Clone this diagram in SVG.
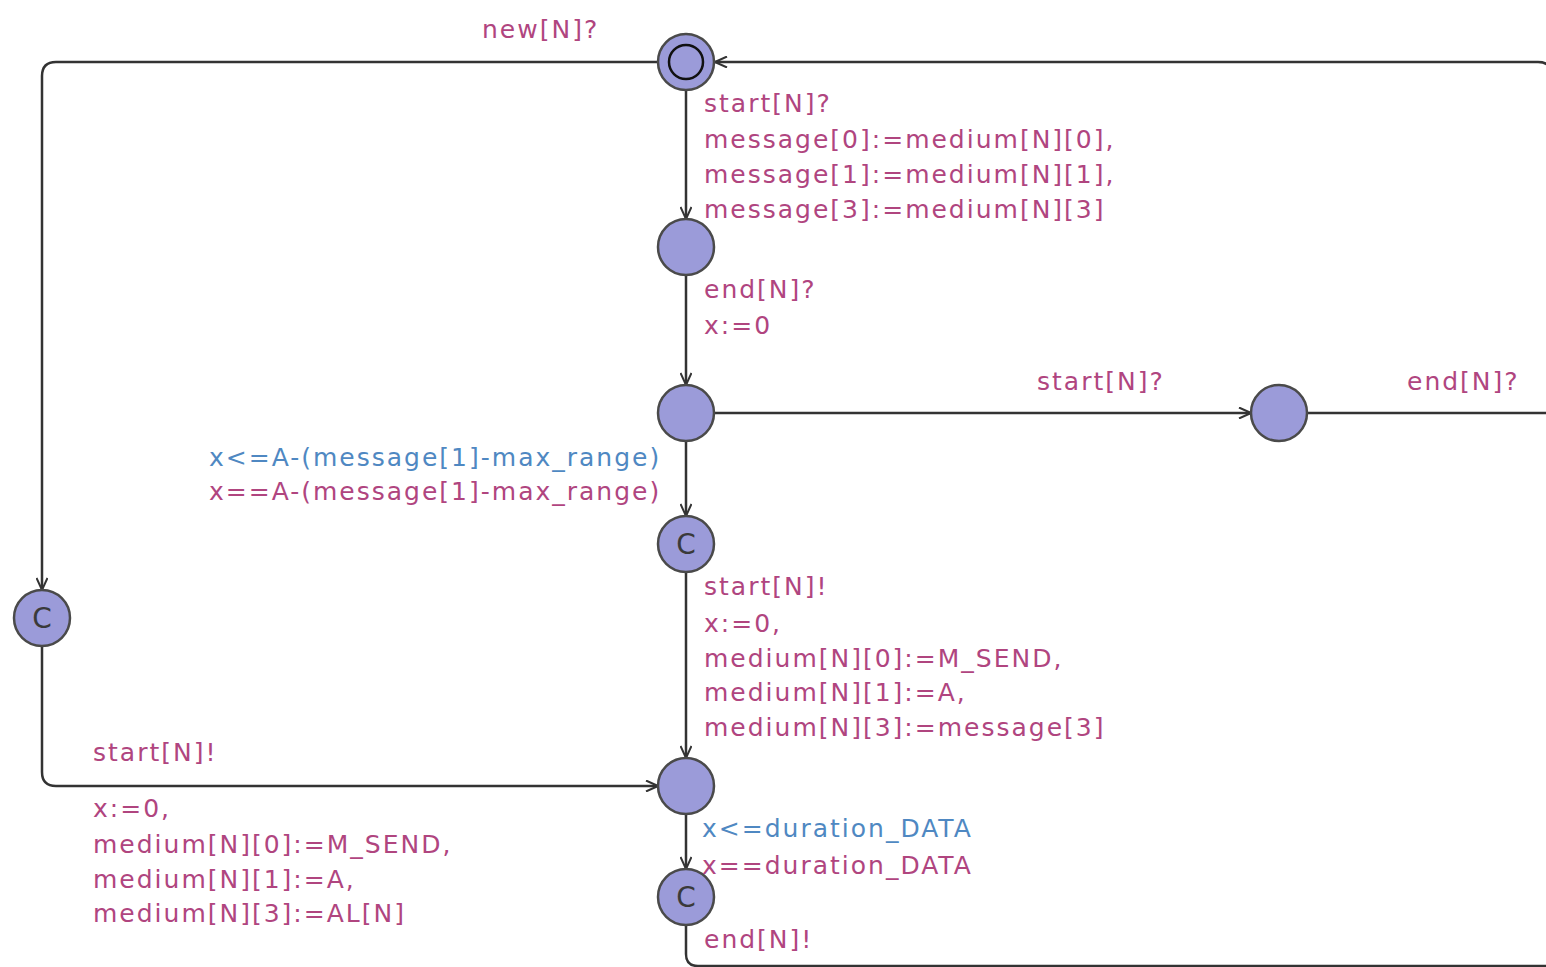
<svg xmlns="http://www.w3.org/2000/svg" width="1546" height="967" viewBox="0 0 1546 967">
  <style>
    .edge { fill: none; stroke: #333; stroke-width: 2.5; }
    .loc { fill: #9b9bd9; stroke: #4a4a4a; stroke-width: 2.5; }
    .init { fill: none; stroke: #111; stroke-width: 2.5; }
    .lbl { font-family: "DejaVu Sans", Verdana, sans-serif; font-size: 25px; letter-spacing: 2px; }
    .sync, .upd { fill: #b0457f; }
    .inv { fill: #4f88c2; }
    .c { font-family: "DejaVu Sans", Verdana, sans-serif; font-size: 28px; fill: #3a3a3a; text-anchor: middle; }
  </style>
  <defs>
    <marker id="arrow" viewBox="0 0 14 12" refX="13" refY="6" markerWidth="14" markerHeight="12" markerUnits="userSpaceOnUse" orient="auto">
      <path d="M1,0.5 L13,6 L1,11.5" fill="none" stroke="#333" stroke-width="2"/>
    </marker>
  </defs>
  <rect width="1546" height="967" fill="#ffffff"/>

  <g id="connectors">
    <path class="edge" d="M686,90 V219" marker-end="url(#arrow)"/>
    <path class="edge" d="M686,275 V385" marker-end="url(#arrow)"/>
    <path class="edge" d="M686,441 V516" marker-end="url(#arrow)"/>
    <path class="edge" d="M686,572 V758" marker-end="url(#arrow)"/>
    <path class="edge" d="M686,814 V869" marker-end="url(#arrow)"/>
    <path class="edge" d="M686,925 V954 Q686,966 698,966 H1546"/>
    <path class="edge" d="M714,413 H1251" marker-end="url(#arrow)"/>
    <path class="edge" d="M1307,413 H1546"/>
    <path class="edge" d="M1552,76 Q1552,62 1538,62 H715" marker-end="url(#arrow)"/>
    <path class="edge" d="M658,62 H56 Q42,62 42,76 V590" marker-end="url(#arrow)"/>
    <path class="edge" d="M42,646 V772 Q42,786 56,786 H658" marker-end="url(#arrow)"/>
  </g>

  <g id="loc-init">
    <circle class="loc" cx="686" cy="62" r="28"/>
    <circle class="init" cx="686" cy="62" r="17"/>
  </g>
  <g id="loc-received">
    <circle class="loc" cx="686" cy="247" r="28"/>
  </g>
  <g id="loc-wait">
    <circle class="loc" cx="686" cy="413" r="28"/>
  </g>
  <g id="loc-collision">
    <circle class="loc" cx="1279" cy="413" r="28"/>
  </g>
  <g id="loc-forward">
    <circle class="loc" cx="686" cy="544" r="28"/>
    <text class="c" x="686" y="554">C</text>
  </g>
  <g id="loc-new">
    <circle class="loc" cx="42" cy="618" r="28"/>
    <text class="c" x="42" y="628">C</text>
  </g>
  <g id="loc-sending">
    <circle class="loc" cx="686" cy="786" r="28"/>
  </g>
  <g id="loc-done">
    <circle class="loc" cx="686" cy="897" r="28"/>
    <text class="c" x="686" y="907">C</text>
  </g>

  <g id="labels" class="lbl">
    <text class="sync" x="482" y="38">new[N]?</text>
    <text class="sync" x="704" y="112">start[N]?</text>
    <text class="upd" x="704" y="148">message[0]:=medium[N][0],</text>
    <text class="upd" x="704" y="183">message[1]:=medium[N][1],</text>
    <text class="upd" x="704" y="218">message[3]:=medium[N][3]</text>
    <text class="sync" x="704" y="298">end[N]?</text>
    <text class="upd" x="704" y="334">x:=0</text>
    <text class="sync" x="1037" y="390">start[N]?</text>
    <text class="sync" x="1407" y="390">end[N]?</text>
    <text class="inv" x="209" y="466">x&lt;=A-(message[1]-max_range)</text>
    <text class="upd" x="209" y="500">x==A-(message[1]-max_range)</text>
    <text class="sync" x="704" y="595">start[N]!</text>
    <text class="upd" x="704" y="632">x:=0,</text>
    <text class="upd" x="704" y="667">medium[N][0]:=M_SEND,</text>
    <text class="upd" x="704" y="701">medium[N][1]:=A,</text>
    <text class="upd" x="704" y="736">medium[N][3]:=message[3]</text>
    <text class="sync" x="93" y="761">start[N]!</text>
    <text class="upd" x="93" y="817">x:=0,</text>
    <text class="upd" x="93" y="853">medium[N][0]:=M_SEND,</text>
    <text class="upd" x="93" y="888">medium[N][1]:=A,</text>
    <text class="upd" x="93" y="922">medium[N][3]:=AL[N]</text>
    <text class="inv" x="702" y="837">x&lt;=duration_DATA</text>
    <text class="upd" x="702" y="874">x==duration_DATA</text>
    <text class="sync" x="704" y="948">end[N]!</text>
  </g>
</svg>
